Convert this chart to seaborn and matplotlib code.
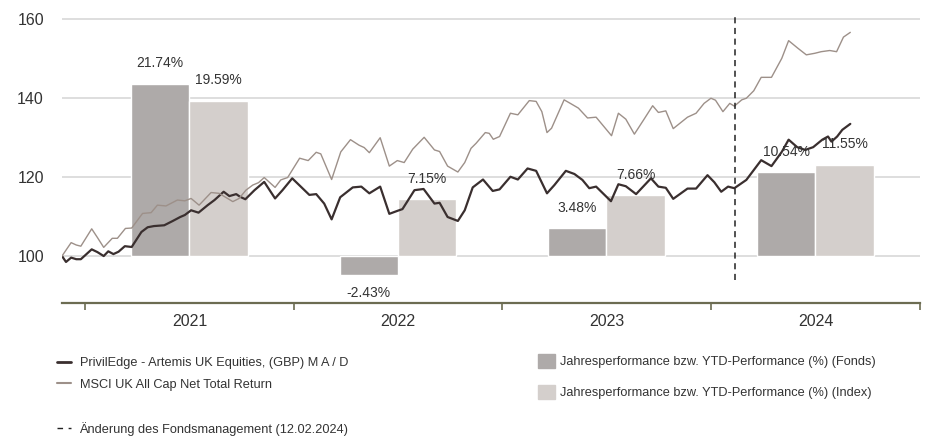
import matplotlib
matplotlib.use("Agg")
import matplotlib.pyplot as plt
import matplotlib.dates as mdates
from matplotlib import font_manager
from matplotlib.lines import Line2D
from matplotlib.patches import Patch
import pandas as pd
import seaborn as sns

# fund line (PrivilEdge - Artemis UK Equities), rebased to 100
fund_dates = [
    "2020-11-21", "2020-11-28", "2020-12-07", "2020-12-16", "2020-12-24", "2021-01-12",
    "2021-01-22", "2021-02-02", "2021-02-10", "2021-02-19", "2021-02-28", "2021-03-11",
    "2021-03-23", "2021-04-09", "2021-04-20", "2021-05-01", "2021-05-19", "2021-06-03",
    "2021-06-16", "2021-06-24", "2021-07-05", "2021-07-18", "2021-08-03", "2021-08-15",
    "2021-08-31", "2021-09-10", "2021-09-22", "2021-09-29", "2021-10-08", "2021-10-24",
    "2021-11-10", "2021-11-29", "2021-12-12", "2021-12-29", "2022-01-13", "2022-01-28",
    "2022-02-09", "2022-02-23", "2022-03-08", "2022-03-23", "2022-04-14", "2022-04-29",
    "2022-05-13", "2022-06-01", "2022-06-17", "2022-07-02", "2022-07-10", "2022-07-31",
    "2022-08-16", "2022-09-04", "2022-09-13", "2022-09-27", "2022-10-15", "2022-10-27",
    "2022-11-10", "2022-11-28", "2022-12-15", "2022-12-27", "2023-01-15", "2023-01-28",
    "2023-02-14", "2023-03-01", "2023-03-20", "2023-04-02", "2023-04-22", "2023-05-07",
    "2023-05-21", "2023-06-02", "2023-06-14", "2023-07-10", "2023-07-23", "2023-08-05",
    "2023-08-23", "2023-09-18", "2023-10-01", "2023-10-14", "2023-10-27", "2023-11-21",
    "2023-12-06", "2023-12-26", "2024-01-07", "2024-01-19", "2024-01-31", "2024-02-11",
    "2024-03-03", "2024-03-16", "2024-03-29", "2024-04-16", "2024-05-04", "2024-05-16",
    "2024-05-31", "2024-06-14", "2024-06-28", "2024-07-14", "2024-07-24", "2024-07-30",
    "2024-08-09", "2024-08-18", "2024-09-01",
]
fund_values = [
    99.9, 98.4, 99.5, 99.1, 99.1, 101.6,
    100.9, 99.9, 101.1, 100.4, 101.0, 102.4,
    102.2, 106.0, 107.2, 107.5, 107.7, 108.8,
    109.8, 110.3, 111.5, 110.9, 112.8, 114.1,
    116.2, 115.1, 115.6, 114.9, 114.3, 116.6,
    118.7, 114.5, 116.6, 119.6, 117.5, 115.4,
    115.6, 113.2, 109.2, 114.8, 117.3, 117.5,
    115.8, 117.5, 110.6, 111.4, 111.8, 116.6,
    116.9, 113.2, 113.4, 109.8, 108.8, 111.5,
    117.3, 119.3, 116.4, 116.8, 120.0, 119.3,
    122.1, 121.5, 115.8, 117.9, 121.5, 120.7,
    119.2, 117.1, 117.5, 113.8, 118.1, 117.6,
    115.6, 119.6, 117.5, 117.2, 114.4, 117.0,
    117.0, 120.4, 118.6, 116.2, 117.5, 117.1,
    119.2, 121.7, 124.2, 122.7, 126.3, 129.4,
    127.5, 126.8, 127.5, 129.4, 130.2, 128.9,
    130.2, 131.9, 133.4,
]

# index line (MSCI UK All Cap Net Total Return), rebased to 100
index_dates = [
    "2020-11-21", "2020-11-28", "2020-12-07", "2020-12-16", "2020-12-24", "2021-01-12",
    "2021-01-22", "2021-02-02", "2021-02-17", "2021-02-26", "2021-03-12", "2021-03-23",
    "2021-04-11", "2021-04-26", "2021-05-07", "2021-05-22", "2021-06-11", "2021-06-24",
    "2021-07-05", "2021-07-19", "2021-08-09", "2021-08-23", "2021-09-16", "2021-09-27",
    "2021-10-09", "2021-10-21", "2021-10-31", "2021-11-10", "2021-11-29", "2021-12-09",
    "2021-12-21", "2022-01-11", "2022-01-26", "2022-02-09", "2022-02-17", "2022-03-08",
    "2022-03-24", "2022-04-10", "2022-04-25", "2022-05-04", "2022-05-13", "2022-06-01",
    "2022-06-17", "2022-07-01", "2022-07-13", "2022-07-28", "2022-08-17", "2022-09-04",
    "2022-09-13", "2022-09-27", "2022-10-15", "2022-10-27", "2022-11-07", "2022-11-16",
    "2022-12-02", "2022-12-09", "2022-12-16", "2022-12-27", "2023-01-15", "2023-01-28",
    "2023-02-17", "2023-03-01", "2023-03-11", "2023-03-20", "2023-03-28", "2023-04-19",
    "2023-05-01", "2023-05-14", "2023-05-30", "2023-06-14", "2023-07-11", "2023-07-23",
    "2023-08-05", "2023-08-20", "2023-09-06", "2023-09-21", "2023-10-01", "2023-10-14",
    "2023-10-27", "2023-11-21", "2023-12-06", "2023-12-20", "2024-01-01", "2024-01-09",
    "2024-01-22", "2024-02-03", "2024-02-11", "2024-02-24", "2024-03-03", "2024-03-16",
    "2024-03-29", "2024-04-16", "2024-05-04", "2024-05-16", "2024-06-01", "2024-06-16",
    "2024-07-01", "2024-07-12", "2024-07-27", "2024-08-08", "2024-08-20", "2024-09-01",
]
index_values = [
    99.9, 101.4, 103.3, 102.7, 102.4, 106.8,
    104.6, 102.1, 104.4, 104.4, 106.9, 107.0,
    110.7, 110.9, 112.8, 112.6, 114.1, 113.9,
    114.5, 112.8, 116.0, 115.8, 113.7, 114.5,
    116.6, 117.9, 118.5, 119.8, 117.3, 119.2,
    119.8, 124.7, 124.1, 126.2, 125.8, 119.3,
    126.3, 129.4, 128.0, 127.4, 126.1, 129.9,
    122.7, 124.1, 123.6, 127.0, 130.0, 126.8,
    126.4, 122.7, 121.2, 123.6, 127.2, 128.5,
    131.2, 131.0, 129.5, 130.2, 136.1, 135.7,
    139.3, 139.1, 136.5, 131.2, 132.3, 139.5,
    138.5, 137.4, 134.9, 135.1, 130.4, 136.1,
    134.6, 130.8, 134.6, 138.0, 136.3, 136.7,
    132.2, 135.1, 136.1, 138.6, 139.9, 139.4,
    136.5, 138.6, 137.9, 139.5, 139.9, 141.8,
    145.2, 145.2, 150.0, 154.5, 152.6, 150.9,
    151.3, 151.7, 152.0, 151.7, 155.4, 156.6,
]

# yearly / YTD performance in %
years = [2021, 2022, 2023, 2024]
fund_perf = [21.74, -2.43, 3.48, 10.54]
index_perf = [19.59, 7.15, 7.66, 11.55]

manager_change = "2024-02-12"

fund_name = "PrivilEdge - Artemis UK Equities, (GBP) M A / D"
index_name = "MSCI UK All Cap Net Total Return"
bar_fund_name = "Jahresperformance bzw. YTD-Performance (%) (Fonds)"
bar_index_name = "Jahresperformance bzw. YTD-Performance (%) (Index)"
change_name = "Änderung des Fondsmanagement (12.02.2024)"

FUND_LINE = "#3a2f2f"
INDEX_LINE = "#9d9089"
FUND_BAR = "#aeaaa9"
INDEX_BAR = "#d4cfcc"
AXIS_COL = "#6c6c52"
TEXT_COL = "#333333"

sns.set_theme(style="white")
available = {f.name for f in font_manager.fontManager.ttflist}
base_font = "Liberation Sans Narrow" if "Liberation Sans Narrow" in available else "Liberation Sans"
plt.rcParams["font.family"] = [base_font, "DejaVu Sans"]

lines_df = pd.concat([
    pd.DataFrame({"date": pd.to_datetime(fund_dates), "value": fund_values, "series": fund_name}),
    pd.DataFrame({"date": pd.to_datetime(index_dates), "value": index_values, "series": index_name}),
])

fig = plt.figure(figsize=(9.28, 4.43), dpi=100)
ax = fig.add_axes([62 / 928, 1 - 303 / 443, (920 - 62) / 928, (303 - 15) / 443])

# grid lines behind bars
for g in [100, 120, 140, 160]:
    ax.axhline(g, color="#d8d8d8", lw=1.2, zorder=0)

# bars: 0 % sits on the 100 line, 1 % = 2 index points
base = 100
scale = 2
width = pd.Timedelta(days=102)
mids = [pd.Timestamp(f"{y}-07-02") for y in years]
fund_x = [m - width / 2 for m in mids]
index_x = [m + width / 2 for m in mids]
ax.bar(fund_x, [p * scale for p in fund_perf], width=width, bottom=base, color=FUND_BAR, zorder=1)
ax.bar(index_x, [p * scale for p in index_perf], width=width, bottom=base, color=INDEX_BAR, zorder=1)

for xs, perfs in [(fund_x, fund_perf), (index_x, index_perf)]:
    for x, p in zip(xs, perfs):
        top = base + p * scale
        off = 12 if p >= 0 else -16
        ax.annotate(f"{p:.2f}%", (x, top), xytext=(0, off), textcoords="offset points",
                    ha="center", va="baseline", fontsize=10, color=TEXT_COL, zorder=4)

sns.lineplot(data=lines_df, x="date", y="value", hue="series",
             palette={fund_name: FUND_LINE, index_name: INDEX_LINE},
             size="series", sizes={fund_name: 1.6, index_name: 1.0},
             legend=False, ax=ax, zorder=3)

ax.axvline(pd.Timestamp(manager_change), ymin=0.08, ymax=1, color="#222222",
           lw=1.1, linestyle=(0, (4, 3)), zorder=3)

ax.set_xlim(pd.Timestamp("2020-11-21"), pd.Timestamp("2025-01-01"))
ax.set_ylim(88, 161)
ax.set_xlabel("")
ax.set_ylabel("")

for s in ["left", "right", "top"]:
    ax.spines[s].set_visible(False)
ax.spines["bottom"].set_color(AXIS_COL)
ax.spines["bottom"].set_linewidth(1.6)

ax.xaxis.set_major_locator(mdates.YearLocator())
ax.xaxis.set_major_formatter(plt.NullFormatter())
ax.xaxis.set_minor_locator(mdates.MonthLocator(bymonth=7, bymonthday=2))
ax.xaxis.set_minor_formatter(mdates.DateFormatter("%Y"))
ax.tick_params(axis="x", which="major", direction="out", length=5, width=1.2, color=AXIS_COL, bottom=True)
ax.tick_params(axis="x", which="minor", length=0, pad=8, labelsize=11.5, labelcolor=TEXT_COL)

ax.set_yticks([100, 120, 140, 160])
ax.tick_params(axis="y", length=0, pad=13, labelsize=11.5, labelcolor=TEXT_COL)

# legends
line_handles = [Line2D([], [], color=FUND_LINE, lw=2), Line2D([], [], color=INDEX_LINE, lw=1.5)]
fig.legend(line_handles, [fund_name, index_name], loc="upper left",
           bbox_to_anchor=(57 / 928, 1 - 357 / 443), frameon=False, fontsize=9.2,
           handlelength=1.1, handletextpad=0.7, labelspacing=0.75, borderpad=0,
           borderaxespad=0, labelcolor=TEXT_COL)
bar_handles = [Patch(color=FUND_BAR), Patch(color=INDEX_BAR)]
fig.legend(bar_handles, [bar_fund_name, bar_index_name], loc="upper left",
           bbox_to_anchor=(538 / 928, 1 - 354 / 443), frameon=False, fontsize=9.2,
           handlelength=1.35, handleheight=1.35, handletextpad=0.4, labelspacing=1.3,
           borderpad=0, borderaxespad=0, labelcolor=TEXT_COL)
change_handle = [Line2D([], [], color="#222222", lw=1, linestyle=(0, (4, 4)))]
fig.legend(change_handle, [change_name], loc="upper left",
           bbox_to_anchor=(57 / 928, 1 - 422 / 443), frameon=False, fontsize=9.2,
           handlelength=1.1, handletextpad=0.65, borderpad=0, borderaxespad=0,
           labelcolor=TEXT_COL)

fig.savefig("out.png", dpi=100)
